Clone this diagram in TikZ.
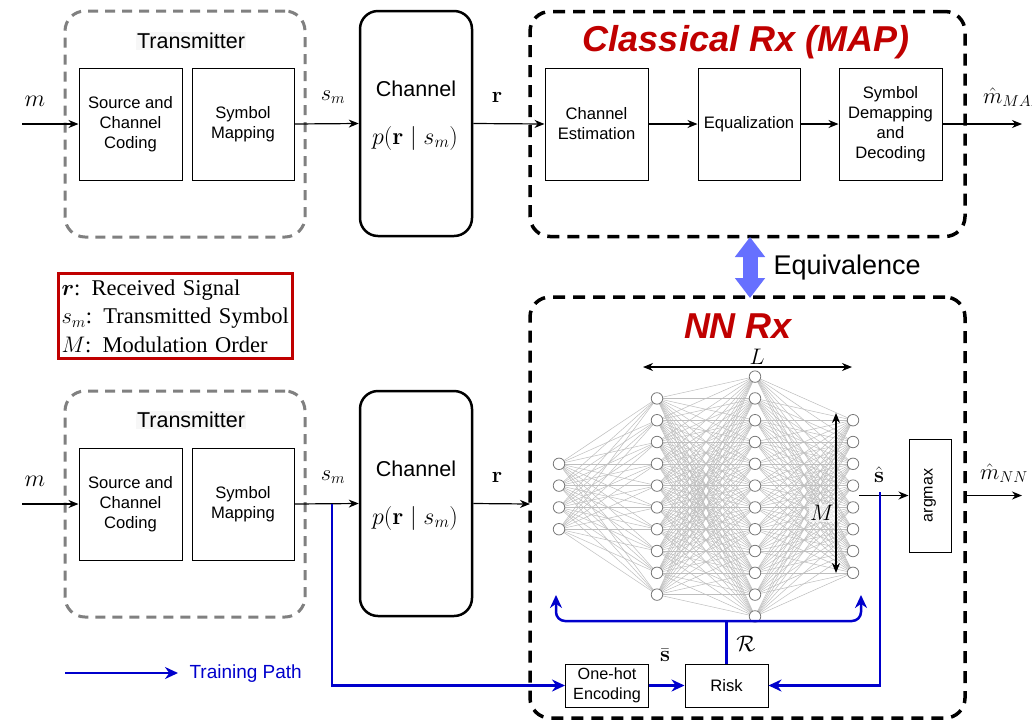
\RequirePackage{fix-cm}
\documentclass[tikz,border=0pt]{standalone}
\usepackage{amsmath}
\usepackage[no-math]{fontspec}
\setmainfont{Liberation Sans}
\newfontfamily\timesf{Liberation Serif}
\usetikzlibrary{arrows.meta}
\definecolor{tred}{RGB}{192,0,0}
\definecolor{tblue}{RGB}{0,0,204}
\definecolor{eqblue}{RGB}{102,112,255}
\definecolor{txgray}{RGB}{128,128,128}
\definecolor{edgegray}{RGB}{190,190,190}
\definecolor{neurgray}{RGB}{120,120,120}
\newcommand\fsz[2]{\fontsize{#1}{#2}\selectfont}
\begin{document}
\begin{tikzpicture}[x=1pt,y=-1pt,
  blk/.style={draw, line width=1pt, minimum width=103, minimum height=112, align=center, font=\fsz{16.6}{20}, inner sep=0pt},
  txbox/.style={draw=txgray, line width=3pt, dash pattern=on 10pt off 7pt, rounded corners=20pt, minimum width=240, minimum height=226, inner sep=0pt},
  rxbox/.style={draw=black, line width=3.5pt, dash pattern=on 12pt off 8pt, rounded corners=20pt, minimum width=435, inner sep=0pt},
  chbox/.style={draw, line width=2.5pt, rounded corners=18pt, minimum width=112, minimum height=225, inner sep=0pt},
  sig/.style={-{Stealth[length=10pt,width=8pt]}, line width=1.2pt},
  tr/.style={tblue, line width=2.5pt, -{Stealth[length=13pt,width=12pt]}},
  mlab/.style={font=\fsz{22.5}{26}, inner sep=1pt},
  plab/.style={font=\fsz{24}{28}, inner sep=1pt},
  title/.style={font=\fsz{36}{40}\bfseries\itshape, text=tred},
  neuron/.style={circle, draw=neurgray, fill=white, line width=0.8pt, minimum size=11.5pt, inner sep=0pt},
  nnedge/.style={draw=edgegray, line width=0.5pt},
  dim/.style={{Stealth[length=10pt,width=8pt]}-{Stealth[length=10pt,width=8pt]}, line width=1.2pt}
]
\useasboundingbox (0,0) rectangle (1032,721);
\fill[white] (0,0) rectangle (1032,721);

% ---------------- top row ----------------
\node[txbox] (tx1) at (185,124) {};
\node[fill=black!3, inner sep=1pt, font=\fsz{21.5}{24}] (tx1t) at (191,41) {Transmitter};
\node[blk] (src1) at (130.5,124) {Source and\\Channel\\Coding};
\node[blk, minimum width=102] (map1) at (243,124) {Symbol\\Mapping};
\node[chbox] (ch1) at (416,123.5) {};
\node[font=\fsz{21.5}{24}] (ch1t) at (416,89) {Channel};
\node[plab] (ch1p) at (415,138) {$p(\mathbf{r}\mid s_m)$};
\coordinate (min1) at (22,124);
\draw[sig] (min1) -- (src1.west);
\node[plab] (m1) at (35,101) {$m$};
\draw[sig] (map1.east) -- (ch1.west);
\node[mlab] (sm1) at (333,97) {$s_m$};
\node[rxbox, minimum height=225] (map) at (747.5,124) {};
\node[title] (mapt) at (746,42) {Classical Rx (MAP)};
\node[blk] (ce) at (596.5,124) {Channel\\Estimation};
\node[blk, minimum width=102] (eq) at (749,124) {Equalization};
\node[blk] (sd) at (890.5,124) {Symbol\\Demapping\\and\\Decoding};
\draw[sig] (ch1.east) -- (ce.west);
\node[mlab] (r1) at (497,97) {$\mathbf{r}$};
\draw[sig] (ce.east) -- (eq.west);
\draw[sig] (eq.east) -- (sd.west);
\coordinate (mout1) at (1022,124);
\draw[sig] (sd.east) -- (mout1);
\node[mlab, anchor=west] (mh1) at (982,97) {$\hat{m}_{MAP}$};

% ---------------- legend ----------------
\node[draw=tred, line width=3pt, anchor=north west, minimum width=234, minimum height=85, text width=228, align=left, inner sep=3pt, font=\timesf\fsz{22.5}{28.5}] (leg) at (57,272)
  {$\boldsymbol{r}$: Received Signal\\$s_m$: Transmitted Symbol\\$M$: Modulation Order};

% ---------------- equivalence ----------------
\coordinate (eqT) at (750,237);
\coordinate (eqB) at (750,298);
\draw[eqblue, line width=15pt, {Triangle[length=20pt,width=29pt]}-{Triangle[length=20pt,width=29pt]}] (eqT) -- (eqB);
\node[anchor=west, font=\fsz{27}{30}] (eqt) at (770,268) {Equivalence};

% ---------------- bottom row ----------------
\node[txbox] (tx2) at (185,504) {};
\node[fill=black!3, inner sep=1pt, font=\fsz{21.5}{24}] (tx2t) at (191,420) {Transmitter};
\node[blk] (src2) at (130.5,504) {Source and\\Channel\\Coding};
\node[blk, minimum width=102] (map2) at (243,504) {Symbol\\Mapping};
\node[chbox] (ch2) at (416,503.5) {};
\node[font=\fsz{21.5}{24}] (ch2t) at (416,469) {Channel};
\node[plab] (ch2p) at (415,518) {$p(\mathbf{r}\mid s_m)$};
\coordinate (min2) at (22,504);
\draw[sig] (min2) -- (src2.west);
\node[plab] (m2) at (35,481) {$m$};
\draw[sig] (map2.east) -- (ch2.west);
\node[mlab] (sm2) at (333,477) {$s_m$};
\coordinate (nnin) at (530,504);
\draw[sig] (ch2.east) -- (nnin);
\node[mlab] (r2) at (497,477) {$\mathbf{r}$};

\node[rxbox, minimum height=421] (nn) at (747.5,507.5) {};
\node[title] (nnt) at (738,326) {NN Rx};

% neural network
\foreach \i in {1,...,4} \coordinate (ca\i) at (559,{496.5+(\i-2.5)*21.8});
\foreach \i in {1,...,10} \coordinate (cb\i) at (657,{496.5+(\i-5.5)*21.8});
\foreach \i in {1,...,12} \coordinate (cc\i) at (755,{496.5+(\i-6.5)*21.8});
\foreach \i in {1,...,8} \coordinate (cd\i) at (853,{496.5+(\i-4.5)*21.8});
\foreach \i in {1,...,4} \foreach \j in {1,...,10} \draw[nnedge] (ca\i) -- (cb\j);
\foreach \i in {1,...,10} \foreach \j in {1,...,12} \draw[nnedge] (cb\i) -- (cc\j);
\foreach \i in {1,...,12} \foreach \j in {1,...,8} \draw[nnedge] (cc\i) -- (cd\j);
\foreach \i in {1,...,4} \node[neuron] (a\i) at (ca\i) {};
\foreach \i in {1,...,10} \node[neuron] (b\i) at (cb\i) {};
\foreach \i in {1,...,12} \node[neuron] (c\i) at (cc\i) {};
\foreach \i in {1,...,8} \node[neuron] (d\i) at (cd\i) {};

\coordinate (LL) at (643,367);
\coordinate (LR) at (852,367);
\draw[dim] (LL) -- (LR);
\node[mlab, inner sep=0pt] (Lt) at (757,357) {$L$};
\coordinate (MT) at (836,413);
\coordinate (MB) at (836,573);
\draw[dim] (MT) -- (MB);
\node[mlab, fill=white, fill opacity=0.6, text opacity=1, inner sep=1pt] (Mt) at (822,513) {$M$};

\node[draw, line width=1pt, minimum width=42, minimum height=113, inner sep=0pt] (am) at (930,495.5) {};
\node[rotate=90, font=\fsz{16}{18}] (amt) at (am.center) {argmax};
\coordinate (nnout) at (859,495.5);
\draw[sig] (nnout) -- (am.west);
\node[mlab] (shat) at (879,475) {$\hat{\mathbf{s}}$};
\coordinate (nnedgeR) at (966,495.5);
\coordinate (mout2) at (1022,495.5);
\draw[sig] (nnedgeR) -- (mout2);
\node[mlab, anchor=west] (mh2) at (979,473) {$\hat{m}_{NN}$};

% ---------------- training path ----------------
\node[draw, line width=1pt, minimum width=83, minimum height=43, align=center, inner sep=0pt, font=\fsz{16.2}{20}] (oh) at (607,685.5) {One-hot\\Encoding};
\node[draw, line width=1pt, minimum width=83, minimum height=43, inner sep=0pt, font=\fsz{16.6}{20}] (risk) at (726.5,685.5) {Risk};
\coordinate (smsplit) at (332,504);
\draw[tr] (smsplit) |- (oh.west);
\draw[tr] (oh.east) -- (risk.west);
\node[mlab] (sbar) at (665,655) {$\bar{\mathbf{s}}$};
\coordinate (shsplit) at (880,492);
\draw[tr] (shsplit) |- (risk.east);
\coordinate (fbL) at (556,595);
\coordinate (fbR) at (861,595);
\coordinate (fbM) at (726.5,621);
\draw[tr, {Stealth[length=13pt,width=12pt]}-{Stealth[length=13pt,width=12pt]}, rounded corners=9pt] (fbL) |- (fbM) -| (fbR);
\draw[tblue, line width=2.5pt] (risk.north) -- (fbM);
\node[mlab] (Rt) at (746,644) {$\mathcal{R}$};

\coordinate (tpA) at (65,673);
\coordinate (tpB) at (178,673);
\draw[tr] (tpA) -- (tpB);
\node[anchor=west, text=tblue, font=\fsz{19}{22}] (tpt) at (186,674) {Training Path};
\end{tikzpicture}
\end{document}
